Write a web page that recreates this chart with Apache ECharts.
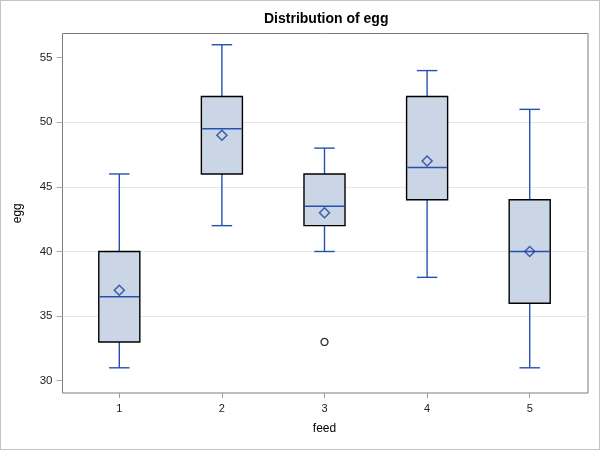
<!DOCTYPE html>
<html>
<head>
<meta charset="utf-8">
<script src="https://cdn.jsdelivr.net/npm/echarts@6/dist/echarts.min.js"></script>
<style>
html,body{margin:0;padding:0;background:#fff;}
#c{width:600px;height:450px;box-sizing:border-box;border:1px solid #c4c4c4;}
</style>
</head>
<body>
<div id="c"></div>
<script>
// ---- data ----
var categories = ['1', '2', '3', '4', '5'];
var whiskerLow  = [31, 42, 40, 38, 31];
var q1          = [33, 46, 42, 44, 36];
var medians     = [36.5, 49.5, 43.5, 46.5, 40];
var q3          = [40, 52, 46, 52, 44];
var whiskerHigh = [46, 56, 48, 54, 51];
var means       = [37, 49, 43, 47, 40];
var outlierCats = ['3'];
var outlierVals = [33];
var yTicks      = [30, 35, 40, 45, 50, 55];

var FONT = "'Liberation Sans', Arial, sans-serif";
var LINE_BLUE = '#2650b0';

var boxData = categories.map(function (c, i) {
  return [i, whiskerLow[i], q1[i], medians[i], q3[i], whiskerHigh[i]];
});
var meanData = categories.map(function (c, i) { return [i, means[i]]; });
var outlierData = outlierCats.map(function (c, i) { return [categories.indexOf(c), outlierVals[i]]; });

var chart = echarts.init(document.getElementById('c'), null, {renderer: 'canvas'});

var yMin = 29.05, yMax = 56.87;

var option = {
  animation: false,
  title: {
    text: 'Distribution of egg',
    left: 263, top: 11, padding: 0,
    textStyle: {fontFamily: FONT, fontSize: 14, fontWeight: 'bold', color: '#000'}
  },
  grid: [
    {left: 61.5, right: 11, top: 32.5, bottom: 56, show: true, borderColor: '#7a7a7a', borderWidth: 1, backgroundColor: 'transparent'},
    {left: 67, right: 18, top: 32.5, bottom: 56}
  ],
  xAxis: [
    {gridIndex: 0, type: 'value', min: 0, max: 1, show: false},
    {
      gridIndex: 1, type: 'category', data: categories,
      axisLine: {show: false},
      axisTick: {show: true, alignWithLabel: true, length: 5, lineStyle: {color: '#9a9a9a'}},
      axisLabel: {fontFamily: FONT, fontSize: 11, color: '#222', margin: 10},
      splitLine: {show: false},
      name: 'feed', nameLocation: 'middle', nameGap: 30,
      nameTextStyle: {fontFamily: FONT, fontSize: 12, color: '#000'}
    }
  ],
  yAxis: [
    {
      gridIndex: 0, type: 'value', min: yMin, max: yMax,
      axisLine: {show: false},
      axisTick: {show: true, length: 6, lineStyle: {color: '#a8a8a8'}, customValues: yTicks},
      axisLabel: {fontFamily: FONT, fontSize: 11.5, color: '#222', margin: 10, customValues: yTicks,
        formatter: function (v) { return yTicks.indexOf(v) >= 0 ? String(v) : ''; }},
      splitLine: {show: true, showMinLine: false, showMaxLine: false, lineStyle: {color: '#e6e6e6', width: 1}},
      name: 'egg', nameLocation: 'middle', nameRotate: 90, nameGap: 39,
      nameTextStyle: {fontFamily: FONT, fontSize: 12, color: '#000'}
    },
    {gridIndex: 1, type: 'value', min: yMin, max: yMax, show: false, splitLine: {show: false}}
  ],
  series: [
    {
      type: 'custom',
      xAxisIndex: 1, yAxisIndex: 1,
      data: boxData,
      encode: {x: 0, y: [1, 2, 3, 4, 5]},
      renderItem: function (params, api) {
        var x = api.value(0);
        var lo = api.coord([x, api.value(1)]);
        var b1 = api.coord([x, api.value(2)]);
        var md = api.coord([x, api.value(3)]);
        var b3 = api.coord([x, api.value(4)]);
        var hi = api.coord([x, api.value(5)]);
        var band = api.size([1, 0])[0];
        var bw = band * 0.4, cw = band * 0.2;
        var cx = lo[0];
        var ls = {stroke: LINE_BLUE, lineWidth: 1.4};
        return {
          type: 'group',
          children: [
            {type: 'line', shape: {x1: cx, y1: lo[1], x2: cx, y2: b1[1]}, style: ls},
            {type: 'line', shape: {x1: cx, y1: b3[1], x2: cx, y2: hi[1]}, style: ls},
            {type: 'line', shape: {x1: cx - cw / 2, y1: lo[1], x2: cx + cw / 2, y2: lo[1]}, style: ls},
            {type: 'line', shape: {x1: cx - cw / 2, y1: hi[1], x2: cx + cw / 2, y2: hi[1]}, style: ls},
            {type: 'rect', shape: {x: cx - bw / 2, y: b3[1], width: bw, height: b1[1] - b3[1]},
              style: {fill: '#cad5e5', stroke: '#000', lineWidth: 1.4}},
            {type: 'line', shape: {x1: cx - bw / 2 + 0.7, y1: md[1], x2: cx + bw / 2 - 0.7, y2: md[1]}, style: ls}
          ]
        };
      },
      z: 2
    },
    {
      type: 'scatter', xAxisIndex: 1, yAxisIndex: 1,
      data: meanData, symbol: 'diamond', symbolSize: 10,
      itemStyle: {color: 'rgba(0,0,0,0)', borderColor: '#1b3d9e', borderWidth: 1.5},
      z: 3
    },
    {
      type: 'scatter', xAxisIndex: 1, yAxisIndex: 1,
      data: outlierData, symbol: 'circle', symbolSize: 7,
      itemStyle: {color: '#fff', borderColor: '#000', borderWidth: 1.3},
      z: 3
    }
  ]
};
chart.setOption(option);
</script>
</body>
</html>
